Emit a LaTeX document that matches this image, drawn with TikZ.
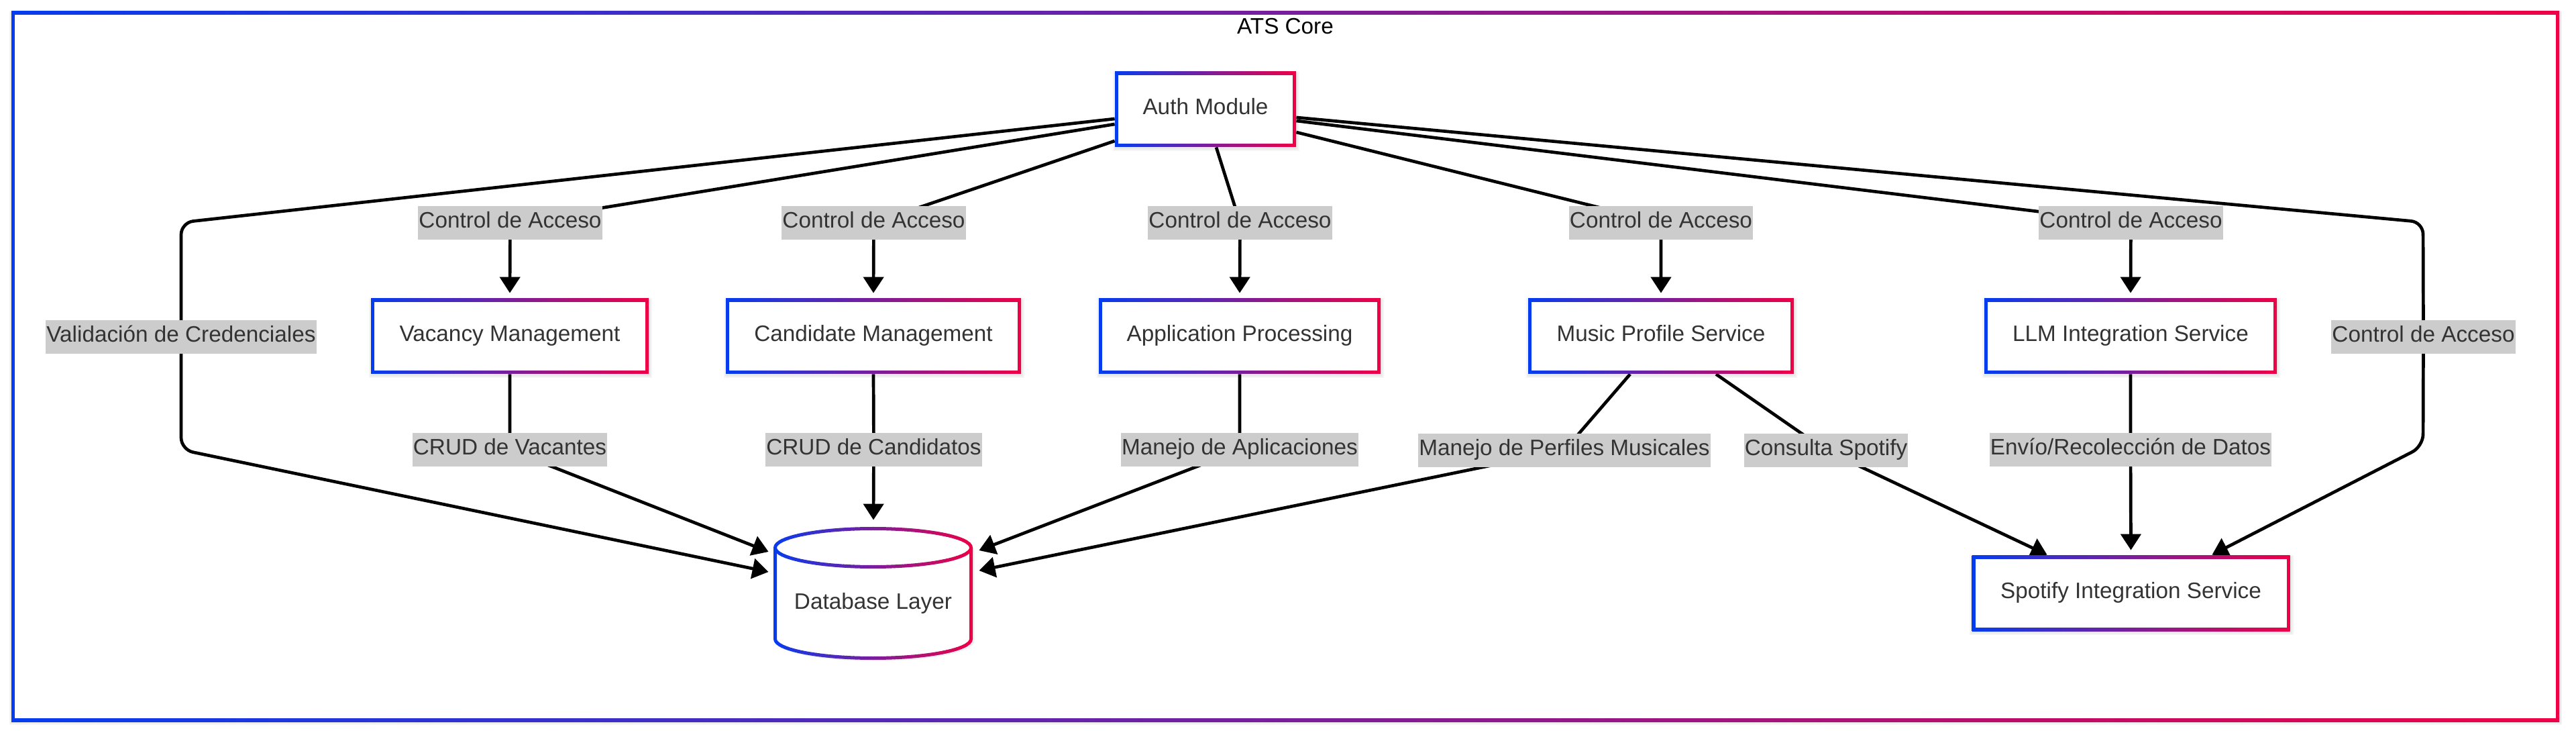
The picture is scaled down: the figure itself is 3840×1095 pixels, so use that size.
\documentclass[tikz,border=0pt]{standalone}
\usepackage{fontspec}
\setmainfont{Liberation Sans}
\usetikzlibrary{arrows.meta,calc}
\definecolor{cb}{RGB}{5,60,240}
\definecolor{cr}{RGB}{238,0,70}
\definecolor{txt}{HTML}{333333}
\definecolor{lblbg}{HTML}{CCCCCC}
\pgfdeclarelayer{bg}
\pgfdeclarelayer{shd}
\pgfdeclarelayer{edges}
\pgfsetlayers{bg,shd,edges,main}
\begin{document}
\begin{tikzpicture}[x=0.5pt,y=-0.5pt,
  font=\fontsize{16.65pt}{20pt}\selectfont,
  gbox/.style={rectangle, minimum height=56pt, inner sep=0pt, text=txt, fill=white,
    text height=0.716em, text depth=0pt,
    path picture={
      \shade[left color=cb, right color=cr] (path picture bounding box.south west) rectangle (path picture bounding box.north east);
      \fill[white] ([shift={(2.5pt,2.5pt)}]path picture bounding box.south west) rectangle ([shift={(-2.5pt,-2.5pt)}]path picture bounding box.north east);
    }},
  elabel/.style={fill=lblbg, text=txt, inner xsep=0.5pt, inner ysep=0pt, minimum height=25pt,
    text height=0.716em, text depth=0pt},
  conn/.style={line width=2.35pt, -{Triangle[length=12pt,width=15pt]}, line join=round}]
\useasboundingbox (0,0) rectangle (3840,1095);

% frame
\begin{pgfonlayer}{bg}
  \fill[black,opacity=0.04] (14,16) rectangle (3819,1080);
  \fill[black,opacity=0.04] (15,18) rectangle (3818,1078);
  \shade[left color=cb,right color=cr] (17,17) rectangle (3815,1075);
  \fill[white] (22,22) rectangle (3810,1070);
\end{pgfonlayer}
\node[text=black, inner sep=0pt, text height=0.716em, text depth=0pt] (title) at (1916,43.5) {ATS Core};

% boxes
\node[gbox, minimum width=135pt] (auth) at (1797,163) {Auth Module};
\node[gbox, minimum width=207pt] (vac) at (760,501) {Vacancy Management};
\node[gbox, minimum width=220pt] (cand) at (1302,501) {Candidate Management};
\node[gbox, minimum width=210pt] (app) at (1848,501) {Application Processing};
\node[gbox, minimum width=198pt] (mus) at (2476,501) {Music Profile Service};
\node[gbox, minimum width=218pt] (llm) at (3176,501) {LLM Integration Service};
\node[gbox, minimum width=237pt] (spot) at (3176.5,884) {Spotify Integration Service};

% database cylinder
\node[minimum width=148.5pt, minimum height=99pt, inner sep=0pt] (db) at (1301.5,884) {};
\begin{pgfonlayer}{shd}
  \fill[black,opacity=0.06] (1156.5,820) -- (1156.5,955) arc[start angle=180,end angle=360,x radius=74pt,y radius=15pt] -- (1452.5,820) arc[start angle=0,end angle=180,x radius=74pt,y radius=15pt] -- cycle;
\end{pgfonlayer}
\fill[white] (1155.5,816) -- (1155.5,952) arc[start angle=180,end angle=360,x radius=73pt,y radius=14.25pt] -- (1447.5,816) arc[start angle=0,end angle=180,x radius=73pt,y radius=14.25pt] -- cycle;
\foreach \i in {0,...,59}{
  \pgfmathsetmacro{\xa}{1150+\i*5.1}
  \pgfmathsetmacro{\xb}{\xa+5.6}
  \pgfmathsetmacro{\pc}{min(100,max(0,(\xa+2.55-1153)/297*100))}
  \begin{scope}
    \clip (\xa,770) rectangle (\xb,1000);
    \colorlet{cc}{cr!\pc!cb}
    \draw[cc, line width=2.5pt] (1301.5,816) ellipse[x radius=73pt,y radius=14.25pt];
    \draw[cc, line width=2.5pt] (1155.5,816) -- (1155.5,952) arc[start angle=180,end angle=360,x radius=73pt,y radius=14.25pt] -- (1447.5,816);
  \end{scope}
}
\node[text=txt, inner sep=0pt, text height=0.716em, text depth=0pt] (dbt) at (1301.5,900.5) {Database Layer};

% edge labels
\node[elabel] (lva) at (760.5,332) {Control de Acceso};
\node[elabel] (lca) at (1302.5,332) {Control de Acceso};
\node[elabel] (lap) at (1848.5,332) {Control de Acceso};
\node[elabel] (lmu) at (2476,332) {Control de Acceso};
\node[elabel] (lll) at (3176.5,332) {Control de Acceso};
\node[elabel] (lri) at (3612.5,502) {Control de Acceso};
\node[elabel] (lval) at (270,502) {Validación de Credenciales};
\node[elabel] (lva2) at (760,670.5) {CRUD de Vacantes};
\node[elabel] (lca2) at (1302.5,670.5) {CRUD de Candidatos};
\node[elabel] (lap2) at (1848,670.5) {Manejo de Aplicaciones};
\node[elabel] (lmu2) at (2332,671) {Manejo de Perfiles Musicales};
\node[elabel] (lms) at (2722,671) {Consulta Spotify};
\node[elabel] (lll2) at (3176,670.5) {Envío/Recolección de Datos};

% shadows of boxes
\begin{pgfonlayer}{shd}
\foreach \n in {auth,vac,cand,app,mus,llm,spot}{
  \fill[black,opacity=0.04] ([shift={(-1.5pt,-3pt)}]\n.south west) rectangle ([shift={(2.5pt,0.5pt)}]\n.north east);
  \fill[black,opacity=0.04] ([shift={(-0.5pt,-2pt)}]\n.south west) rectangle ([shift={(1.5pt,-0.5pt)}]\n.north east);
}
\end{pgfonlayer}

% connectors
\begin{pgfonlayer}{edges}
\draw[conn] ([yshift=-11pt]auth.west) -- (lva.center) -- ($(vac.north)+(0,-8)$);
\draw[conn] ([yshift=-23.5pt]auth.west) -- (lca.center) -- ($(cand.north)+(0,-8)$);
\draw[conn] ($(auth.south)+(16,0)$) -- (lap.center) -- ($(app.north)+(0,-8)$);
\draw[conn] ([yshift=-17pt]auth.east) -- (lmu.center) -- ($(mus.north)+(0,-8)$);
\draw[conn] ([yshift=-8.5pt]auth.east) -- (lll.center) -- ($(llm.north)+(0,-8)$);
\draw[conn, rounded corners=9pt] ([yshift=-6pt]auth.east) -- (3612,331) -- (lri.center) -- (3612,665) -- ($(spot.north east)+(-116.5,-1)$);
\draw[conn, rounded corners=9pt] ([yshift=-7pt]auth.west) -- (270,331.5) -- (lval.center) -- (270,670) -- ($(db.west)+(-7,-32)$);
\draw[conn] (vac.south) -- (lva2.center) -- ($(db.west)+(-7,-62)$);
\draw[conn] (cand.south) -- (lca2.center) -- ($(db.north)+(0.5,-10)$);
\draw[conn] (app.south) -- (lap2.center) -- ($(db.east)+(9,-64)$);
\draw[conn] ($(mus.south)+(-46,0)$) -- (lmu2.center) -- ($(db.east)+(9,-34)$);
\draw[conn] ($(mus.south)+(82,0)$) -- (lms.center) -- ($(spot.north west)+(112.5,-1)$);
\draw[conn] (llm.south) -- (lll2.center) -- ($(spot.north)+(0,-8)$);
\end{pgfonlayer}
\end{tikzpicture}
\end{document}
